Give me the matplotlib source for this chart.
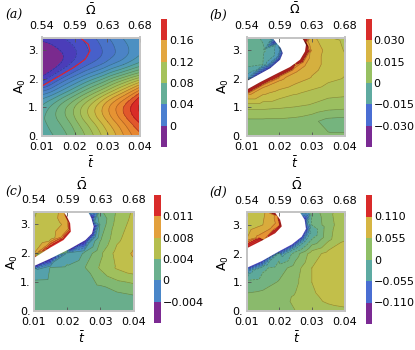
import numpy as np
import matplotlib
matplotlib.use('Agg')
import matplotlib.pyplot as plt
import matplotlib.tri as mtri
from matplotlib.path import Path
from matplotlib.colors import LinearSegmentedColormap, ListedColormap, Normalize

nan = np.nan

t_grid = [0.01, 0.015, 0.02, 0.025, 0.03, 0.035, 0.04]
a_grid = [0.0, 0.5, 1.0, 1.5, 2.0, 2.5, 3.0, 3.5]

# rows are A0 = 0 ... 3.5, columns t = 0.01 ... 0.04
za = [
    [0.055, 0.063, 0.078, 0.097, 0.118, 0.140, 0.157],
    [0.058, 0.070, 0.087, 0.108, 0.130, 0.152, 0.172],
    [0.052, 0.070, 0.090, 0.113, 0.137, 0.160, 0.182],
    [0.025, 0.042, 0.063, 0.085, 0.108, 0.132, 0.160],
    [-0.016, 0.006, 0.027, 0.046, 0.065, 0.085, 0.105],
    [-0.028, -0.021, -0.004, 0.012, 0.026, 0.040, 0.055],
    [-0.029, -0.021, -0.011, 0.002, 0.014, 0.026, 0.038],
    [-0.013, -0.011, -0.003, 0.008, 0.020, 0.032, 0.042],
]
zb = [
    [0.002, 0.002, 0.002, 0.002, 0.0015, 0.0005, 0.0005],
    [0.003, 0.003, 0.003, 0.0025, 0.001, -0.0015, -0.002],
    [0.009, 0.009, 0.0085, 0.0079, 0.0071, 0.0055, 0.005],
    [0.020, 0.017, 0.0145, 0.0125, 0.011, 0.0095, 0.0091],
    [-0.012, nan, 0.021, 0.018, 0.0155, 0.013, 0.0118],
    [-0.006, -0.008, nan, 0.030, 0.018, 0.0145, 0.013],
    [-0.005, -0.007, -0.014, nan, 0.019, 0.0145, 0.0118],
    [-0.005, -0.009, nan, nan, 0.017, 0.0118, 0.011],
]
zc = [
    [0.002, 0.002, 0.002, 0.002, 0.002, 0.002, 0.002],
    [0.002, 0.002, 0.002, 0.002, 0.0022, 0.0026, 0.003],
    [0.0019, 0.002, 0.0021, 0.0025, 0.0035, 0.0045, 0.005],
    [0.0, 0.0017, 0.0019, 0.003, 0.005, 0.0066, 0.0075],
    [0.008, nan, 0.0005, 0.0018, 0.0045, 0.007, 0.0082],
    [0.007, 0.0076, nan, nan, 0.003, 0.006, 0.0075],
    [0.0065, 0.0074, 0.0083, nan, 0.002, 0.0055, 0.007],
    [0.0062, 0.0072, nan, nan, 0.003, 0.005, 0.0066],
]
zd = [
    [0.015, 0.015, 0.016, 0.020, 0.030, 0.035, 0.037],
    [0.005, 0.008, 0.014, 0.022, 0.036, 0.045, 0.048],
    [-0.015, -0.010, 0.002, 0.015, 0.040, 0.052, 0.057],
    [nan, -0.025, -0.010, 0.010, 0.040, 0.054, 0.058],
    [0.075, nan, -0.030, -0.010, 0.030, 0.047, 0.054],
    [0.060, 0.080, nan, nan, -0.020, 0.015, 0.038],
    [0.045, 0.060, 0.085, nan, -0.020, 0.012, 0.033],
    [0.040, 0.055, nan, nan, -0.012, 0.015, 0.030],
]

# red curve in (a)
red_t = [0.0100, 0.0145, 0.0196, 0.0232, 0.0247, 0.0242, 0.0216]
red_a = [1.74, 2.04, 2.39, 2.68, 2.98, 3.21, 3.45]

# blank (undefined) wedge: lower/right edge and upper/left edge
band_b = dict(lo_t=[0.0100, 0.0142, 0.0193, 0.0233, 0.0264, 0.0279, 0.0282, 0.0274, 0.0260],
              lo_a=[1.61, 1.88, 2.18, 2.41, 2.67, 2.96, 3.19, 3.37, 3.55],
              hi_t=[0.0100, 0.0132, 0.0173, 0.0203, 0.0211, 0.0205, 0.0188, 0.0172],
              hi_a=[1.91, 2.11, 2.37, 2.67, 2.90, 3.08, 3.31, 3.55])
band_c = dict(lo_t=[0.0100, 0.0148, 0.0209, 0.0255, 0.0275, 0.0280, 0.0273, 0.0258],
              lo_a=[1.56, 1.81, 2.16, 2.46, 2.69, 2.93, 3.22, 3.55],
              hi_t=[0.0100, 0.0148, 0.0189, 0.0211, 0.0209, 0.0199, 0.0182],
              hi_a=[1.84, 2.19, 2.46, 2.75, 3.04, 3.28, 3.55])
band_d = dict(lo_t=[0.0100, 0.0147, 0.0198, 0.0239, 0.0269, 0.0282, 0.0278, 0.0257],
              lo_a=[1.50, 1.74, 2.07, 2.32, 2.59, 2.86, 3.18, 3.55],
              hi_t=[0.0100, 0.0147, 0.0188, 0.0208, 0.0203, 0.0188, 0.0178],
              hi_a=[2.18, 2.45, 2.71, 2.95, 3.18, 3.42, 3.55])
# values on the wedge edges (lower, upper) and a little way off them
edge_b, near_b = (0.046, -0.038), (0.021, -0.013)
edge_c, near_c = (-0.0075, 0.014), (0.0, 0.0085)
edge_d, near_d = (-0.14, 0.17), (-0.045, 0.085)

t_ticks = [0.01, 0.02, 0.03, 0.04]
t_labels = ['0.01', '0.02', '0.03', '0.04']
om_labels = ['0.54', '0.59', '0.63', '0.68']
a_ticks = [0, 1, 2, 3]
a_labels = ['0.', '1.', '2.', '3.']

cb_a = ['0', '0.04', '0.08', '0.12', '0.16']
cb_b = ['\u22120.030', '\u22120.015', '0', '0.015', '0.030']
cb_c = ['\u22120.004', '0', '0.004', '0.008', '0.011']
cb_d = ['\u22120.110', '\u22120.055', '0', '0.055', '0.110']
cbc_a = ['#7B2B91', '#4B7FD0', '#65AE97', '#A5C25B', '#E3A640', '#D92D2A']
cbc_b = ['#7A2A93', '#4A6ED3', '#5FAAA0', '#97C062', '#D8B544', '#D92D2A']
cbc_c = ['#7C2A92', '#4A86C8', '#6BB08F', '#B5BE4E', '#E3A03C', '#D92B2A']
cbc_d = ['#7B2A93', '#4A6ED2', '#5DAAA2', '#8FBF67', '#D6B543', '#D92B2A']

cmap = LinearSegmentedColormap.from_list('rb', [
    (0.0, '#7A2A8E'), (0.065, '#7A2A8E'), (0.10, '#4B3CB8'), (0.17, '#4658CA'),
    (0.25, '#4A7DC8'), (0.33, '#4C95C0'), (0.40, '#5AA89E'), (0.50, '#7DB775'),
    (0.58, '#A0C05D'), (0.67, '#CBBF45'), (0.75, '#E59A35'), (0.83, '#E8822F'),
    (0.88, '#D92B27'), (1.0, '#D92B27')])

plt.rcParams['font.family'] = 'DejaVu Sans'
plt.rcParams['font.size'] = 8

W, H = 415, 350
fig = plt.figure(figsize=(W / 100, H / 100), dpi=100)


def px_axes(x0, y0, x1, y1):
    return fig.add_axes([x0 / W, 1 - y1 / H, (x1 - x0) / W, (y1 - y0) / H])


def ftext(x, y, s, **kw):
    fig.text(x / W, 1 - y / H, s, ha='center', va='center', **kw)


def field(ax, z, levels, vmin, vmax, band=None, edge=None, near=None):
    T, A = np.meshgrid(t_grid, a_grid)
    x, y = T.ravel(), A.ravel()
    v = np.asarray(z, float).ravel()
    keep = ~np.isnan(v)
    poly = None
    if band is not None:
        lo_t, lo_a = np.array(band['lo_t']), np.array(band['lo_a'])
        hi_t, hi_a = np.array(band['hi_t']), np.array(band['hi_a'])
        poly = np.column_stack([np.r_[lo_t, hi_t[::-1]], np.r_[lo_a, hi_a[::-1]]])
        path = Path(poly)
        keep &= ~path.contains_points(np.column_stack([x, y]))
        # points just off each edge, on the outer side
        nx = np.r_[lo_t + 0.001, hi_t - 0.001]
        ny = np.r_[lo_a - 0.12, hi_a + 0.12]
        nv = np.r_[np.full(len(lo_t), near[0]), np.full(len(hi_t), near[1])]
        nk = ~path.contains_points(np.column_stack([nx, ny]))
        x = np.r_[x[keep], lo_t, hi_t, nx[nk]]
        y = np.r_[y[keep], lo_a, hi_a, ny[nk]]
        v = np.r_[v[keep], np.full(len(lo_t), edge[0]), np.full(len(hi_t), edge[1]), nv[nk]]
    else:
        x, y, v = x[keep], y[keep], v[keep]
    tri = mtri.Triangulation(x * 100, y)
    if band is None:
        # smooth field: let matplotlib refine it
        tri, v = mtri.UniformTriRefiner(tri).refine_field(v, subdiv=3)
    tri = mtri.Triangulation(tri.x / 100, tri.y, tri.triangles)
    norm = Normalize(vmin, vmax)
    ax.tricontourf(tri, v, levels=levels, cmap=cmap, norm=norm, extend='both')
    ax.tricontour(tri, v, levels=levels, colors='k', alpha=0.28, linewidths=0.45)
    if poly is not None:
        ax.fill(poly[:, 0], poly[:, 1], color='white', lw=0, zorder=2)


def frame(ax):
    ax.set_xlim(0.01, 0.04)
    ax.set_ylim(0, 3.45)
    ax.set_xticks(t_ticks)
    ax.set_xticklabels(t_labels)
    ax.set_yticks(a_ticks)
    ax.set_yticklabels(a_labels)
    ax.tick_params(direction='in', length=3, width=0.6, color='#555555', pad=4.5)
    ax.tick_params(axis='y', pad=2.5)
    for s in ax.spines.values():
        s.set_color('#C4C4C4')
        s.set_linewidth(1.3)
    top = ax.twiny()
    top.set_xlim(0.01, 0.04)
    top.set_xticks(t_ticks)
    top.set_xticklabels(om_labels)
    top.tick_params(direction='in', length=3, width=0.6, color='#555555', pad=4.5)
    for s in top.spines.values():
        s.set_color('#C4C4C4')
        s.set_linewidth(1.3)


def cbar(x0, y0, x1, y1, colors, labels):
    cax = px_axes(x0, y0, x1, y1)
    cax.imshow(np.arange(6).reshape(6, 1), cmap=ListedColormap(colors), origin='lower',
               extent=[0, 1, 0, 6], aspect='auto', interpolation='nearest')
    cax.set_xticks([])
    cax.set_yticks([1, 2, 3, 4, 5])
    cax.set_yticklabels(labels)
    cax.yaxis.tick_right()
    cax.tick_params(axis='y', length=0, pad=1.5)
    for s in cax.spines.values():
        s.set_visible(False)


panels = [
    dict(box=(42, 37.5, 140, 135.5), cb=(161, 19, 167, 147), tag=(14, 15), om=(91, 10), tb=(91, 163), a0=(20, 86),
         z=za, lev=np.arange(-0.04, 0.2001, 0.01), vr=(-0.04, 0.2), band=None, edge=None, near=None,
         cbc=cbc_a, cbl=cb_a, name='(a)'),
    dict(box=(246.5, 37.5, 344.5, 135.5), cb=(365.5, 19, 371.5, 147), tag=(218, 15), om=(295, 9), tb=(295, 163), a0=(223, 86),
         z=zb, lev=np.arange(-0.048, 0.0481, 0.004), vr=(-0.045, 0.045), band=band_b, edge=edge_b, near=near_b,
         cbc=cbc_b, cbl=cb_b, name='(b)'),
    dict(box=(34, 211.5, 133.5, 311), cb=(154, 195, 160.5, 323), tag=(14, 192), om=(82, 185), tb=(82, 338), a0=(12, 262),
         z=zc, lev=np.arange(-0.008, 0.0161, 0.0016), vr=(-0.008, 0.0155), band=band_c, edge=edge_c, near=near_c,
         cbc=cbc_c, cbl=cb_c, name='(c)'),
    dict(box=(246.5, 212, 344.5, 311), cb=(366, 195, 372, 324), tag=(218, 192), om=(297, 185), tb=(297, 338), a0=(223, 263),
         z=zd, lev=np.arange(-0.18, 0.1801, 0.02), vr=(-0.165, 0.165), band=band_d, edge=edge_d, near=near_d,
         cbc=cbc_d, cbl=cb_d, name='(d)'),
]

for p in panels:
    ax = px_axes(*p['box'])
    field(ax, p['z'], p['lev'], *p['vr'], band=p['band'], edge=p['edge'], near=p['near'])
    if p['name'] == '(a)':
        ax.plot(red_t, red_a, color='#E8202A', lw=0.8, zorder=3)
    frame(ax)
    cbar(*p['cb'], p['cbc'], p['cbl'])
    ftext(*p['tag'], p['name'], family='DejaVu Serif', style='italic', fontsize=9)
    ftext(*p['om'], r'$\bar{\Omega}$', fontsize=9)
    ftext(*p['tb'], r'$\bar{t}$', fontsize=9)
    ftext(*p['a0'], r'$\mathregular{A_0}$', fontsize=9, rotation=90)

fig.savefig('out.png', dpi=100)
